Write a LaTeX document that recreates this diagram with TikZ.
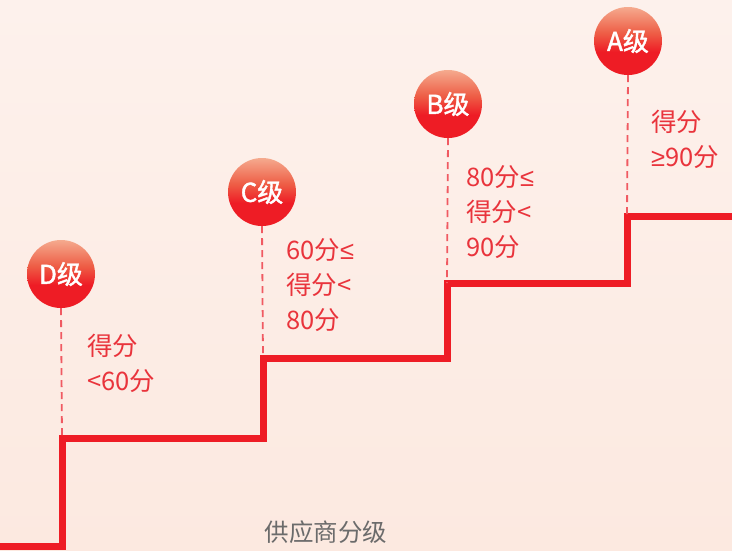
\documentclass[tikz,border=0pt]{standalone}
\usepackage{fontspec}
\setmainfont{Noto Sans CJK SC}
\newfontfamily\ballfont[FakeBold=1.6]{Noto Sans CJK SC}
\newfontfamily\relfont{Liberation Sans}
\newcommand{\myle}{{\relfont ≤}}
\newcommand{\myge}{{\relfont ≥}}
\definecolor{bgTop}{HTML}{FDF1EC}
\definecolor{bgBot}{HTML}{FCE9E0}
\definecolor{stairRed}{HTML}{EE1C25}
\definecolor{txtRed}{HTML}{E9343C}
\definecolor{dashRed}{HTML}{F05A62}
\definecolor{ballTop}{HTML}{F5AA8E}
\definecolor{ballMid}{HTML}{EE5E46}
\definecolor{ballBot}{HTML}{EE1C25}
\definecolor{titleGray}{HTML}{6B6B6B}
\pgfdeclareverticalshading{ballshade}{100bp}{color(0bp)=(ballBot); color(25bp)=(ballBot); color(42bp)=(ballBot); color(56bp)=(ballMid); color(75bp)=(ballTop); color(100bp)=(ballTop)}
\begin{document}
\begin{tikzpicture}[x=1pt,y=-1pt,
  ball/.style={circle,minimum size=68pt,inner sep=0pt,shading=ballshade,
     text=white,font=\fontsize{26}{28}\ballfont},
  grade/.style={anchor=north west,align=left,inner sep=0pt,text=txtRed,
     font=\fontsize{25.5}{35}\selectfont},
  stair/.style={draw=stairRed,line width=7pt},
  guide/.style={draw=dashRed,line width=1.8pt,dash pattern=on 7pt off 5pt}]
\useasboundingbox (0,0) rectangle (732,550);
\shade[top color=bgTop,bottom color=bgBot] (0,0) rectangle (732,550);
% stair coordinates
\coordinate (s0) at (-5,546);
\coordinate (s1) at (62,546);
\coordinate (sD) at (62,438);
\coordinate (s3) at (263,438);
\coordinate (sC) at (263,358);
\coordinate (s5) at (447,358);
\coordinate (sB) at (447,283);
\coordinate (s7) at (627,283);
\coordinate (sA) at (627,216);
\coordinate (s9) at (740,216);
\draw[stair] (s0) -- (s1) -- (sD) -- (s3) -- (sC) -- (s5) -- (sB) -- (s7) -- (sA) -- (s9);
% balls
\node[ball] (cD) at (61,274) {D级};
\node[ball] (cC) at (262,192) {C级};
\node[ball] (cB) at (448,104) {B级};
\node[ball] (cA) at (628,41) {A级};
\draw[guide] (cD.south) -- (sD);
\draw[guide] (cC.south) -- (sC);
\draw[guide] (cB.south) -- (sB);
\draw[guide] (cA.south) -- (sA);
% labels
\node[grade] (tD) at (87,334) {得分\\<60分};
\node[grade] (tC) at (286,238) {60分\myle\\得分<\\80分};
\node[grade] (tB) at (466,165) {80分\myle\\得分<\\90分};
\node[grade] (tA) at (651,110) {得分\\\myge90分};
\node[text=titleGray,font=\fontsize{24.5}{26}\selectfont] (title) at (326,532) {供应商分级};
\end{tikzpicture}
\end{document}
